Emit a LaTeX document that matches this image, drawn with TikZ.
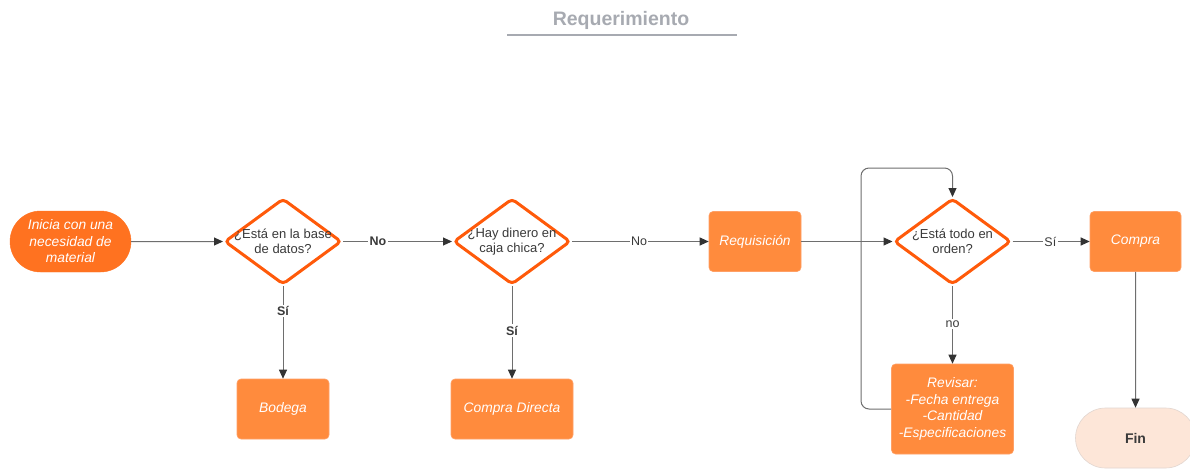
\documentclass[tikz,border=0pt]{standalone}
\usepackage{fontspec}
\setmainfont{Liberation Sans}
\usetikzlibrary{shapes.geometric,shapes.misc,arrows.meta}
\definecolor{startorange}{HTML}{FF7220}
\definecolor{boxorange}{HTML}{FF8B3D}
\definecolor{boxedge}{HTML}{FFA066}
\definecolor{edgeorange}{HTML}{FF5A0A}
\definecolor{linegray}{HTML}{6E6E6E}
\definecolor{tipgray}{HTML}{333333}
\definecolor{textgray}{HTML}{3A3A3A}
\definecolor{titlegray}{HTML}{A7AAB1}
\definecolor{finfill}{HTML}{FDE6D8}
\definecolor{finedge}{HTML}{E2D6D0}
\begin{document}
\begin{tikzpicture}[x=1pt,y=-1pt,
  startnode/.style={rounded rectangle, fill=startorange, draw=startorange,
    minimum width=121pt, minimum height=61pt, inner sep=0pt, text=white,
    align=center, font=\itshape\fontsize{13.8}{16.5}\selectfont},
  procbox/.style={rectangle, rounded corners=4pt, fill=boxorange, draw=boxedge,
    line width=0.6pt, inner sep=0pt, text=white, align=center,
    font=\itshape\fontsize{13.8}{16.5}\selectfont},
  dia/.style={diamond, draw=edgeorange, line width=3pt, rounded corners=4pt,
    fill=white, minimum width=117pt, minimum height=86pt, inner sep=0pt},
  diatext/.style={align=center, text=textgray, inner sep=0pt,
    font=\fontsize{13}{14.5}\selectfont},
  finnode/.style={rounded rectangle, fill=finfill, draw=finedge, line width=0.6pt,
    minimum width=120pt, minimum height=60pt, inner sep=0pt, text=textgray,
    font=\bfseries\fontsize{14}{16}\selectfont},
  conn/.style={draw=linegray, line width=1pt,
    -{Triangle[length=9pt,width=8pt,color=tipgray]}},
  lbl/.style={fill=white, inner sep=1.5pt, text=textgray,
    font=\fontsize{12.5}{14}\selectfont},
  boldlbl/.style={lbl, font=\bfseries\fontsize{12.5}{14}\selectfont},
  titletext/.style={text=titlegray, font=\bfseries\fontsize{19.5}{22}\selectfont}
]
\useasboundingbox (0,0) rectangle (1190,469);
\clip (0,0) rectangle (1190,469);
\fill[white] (0,0) rectangle (1190,469);

% heading
\node[titletext] (title) at (621,20) {Requerimiento};
\draw[titlegray, line width=2pt] (507,35) -- (737,35);

% main row
\node[startnode] (start) at (70.5,241.5) {Inicia con una\\necesidad de\\material};
\node[dia] (d1) at (283,241.5) {};
\node[diatext] at (d1) {¿Está en la base\\de datos?};
\node[dia] (d2) at (512,241.5) {};
\node[diatext] at (d2) {¿Hay dinero en\\caja chica?};
\node[procbox, minimum width=92pt, minimum height=60pt] (req) at (755,241.5) {Requisición};
\node[dia] (d3) at (952.5,241.5) {};
\node[diatext] at (d3) {¿Está todo en\\orden?};
\node[procbox, minimum width=91pt, minimum height=60pt] (compra) at (1135.5,241.5) {Compra};

% lower row
\node[procbox, minimum width=92pt, minimum height=60pt] (bodega) at (283,409) {Bodega};
\node[procbox, minimum width=122pt, minimum height=60pt] (directa) at (512,409) {Compra Directa};
\node[procbox, minimum width=122pt, minimum height=90pt] (revisar) at (952.5,409)
  {Revisar:\\-Fecha entrega\\-Cantidad\\-Especificaciones};
\node[finnode] (fin) at (1135.5,438) {Fin};

% connectors
\draw[conn] (start) -- (d1);
\draw[conn] (d1) -- node[boldlbl, pos=0.32] {No} (d2);
\draw[conn] (d2) -- node[lbl, pos=0.49] {No} (req);
\draw[conn] (req) -- (d3);
\draw[conn] (d3) -- node[lbl, pos=0.49] {Sí} (compra);
\draw[conn] (d1) -- node[boldlbl, pos=0.27] {Sí} (bodega);
\draw[conn] (d2) -- node[boldlbl, pos=0.48] {Sí} (directa);
\draw[conn] (d3) -- node[lbl, pos=0.49] {no} (revisar);
\draw[conn] (compra) -- (fin);

% review loop back to the check
\coordinate (loopcorner) at (861,168);
\draw[conn, rounded corners=8pt] (revisar.west) -| (loopcorner) -| (d3.north);
\end{tikzpicture}
\end{document}
